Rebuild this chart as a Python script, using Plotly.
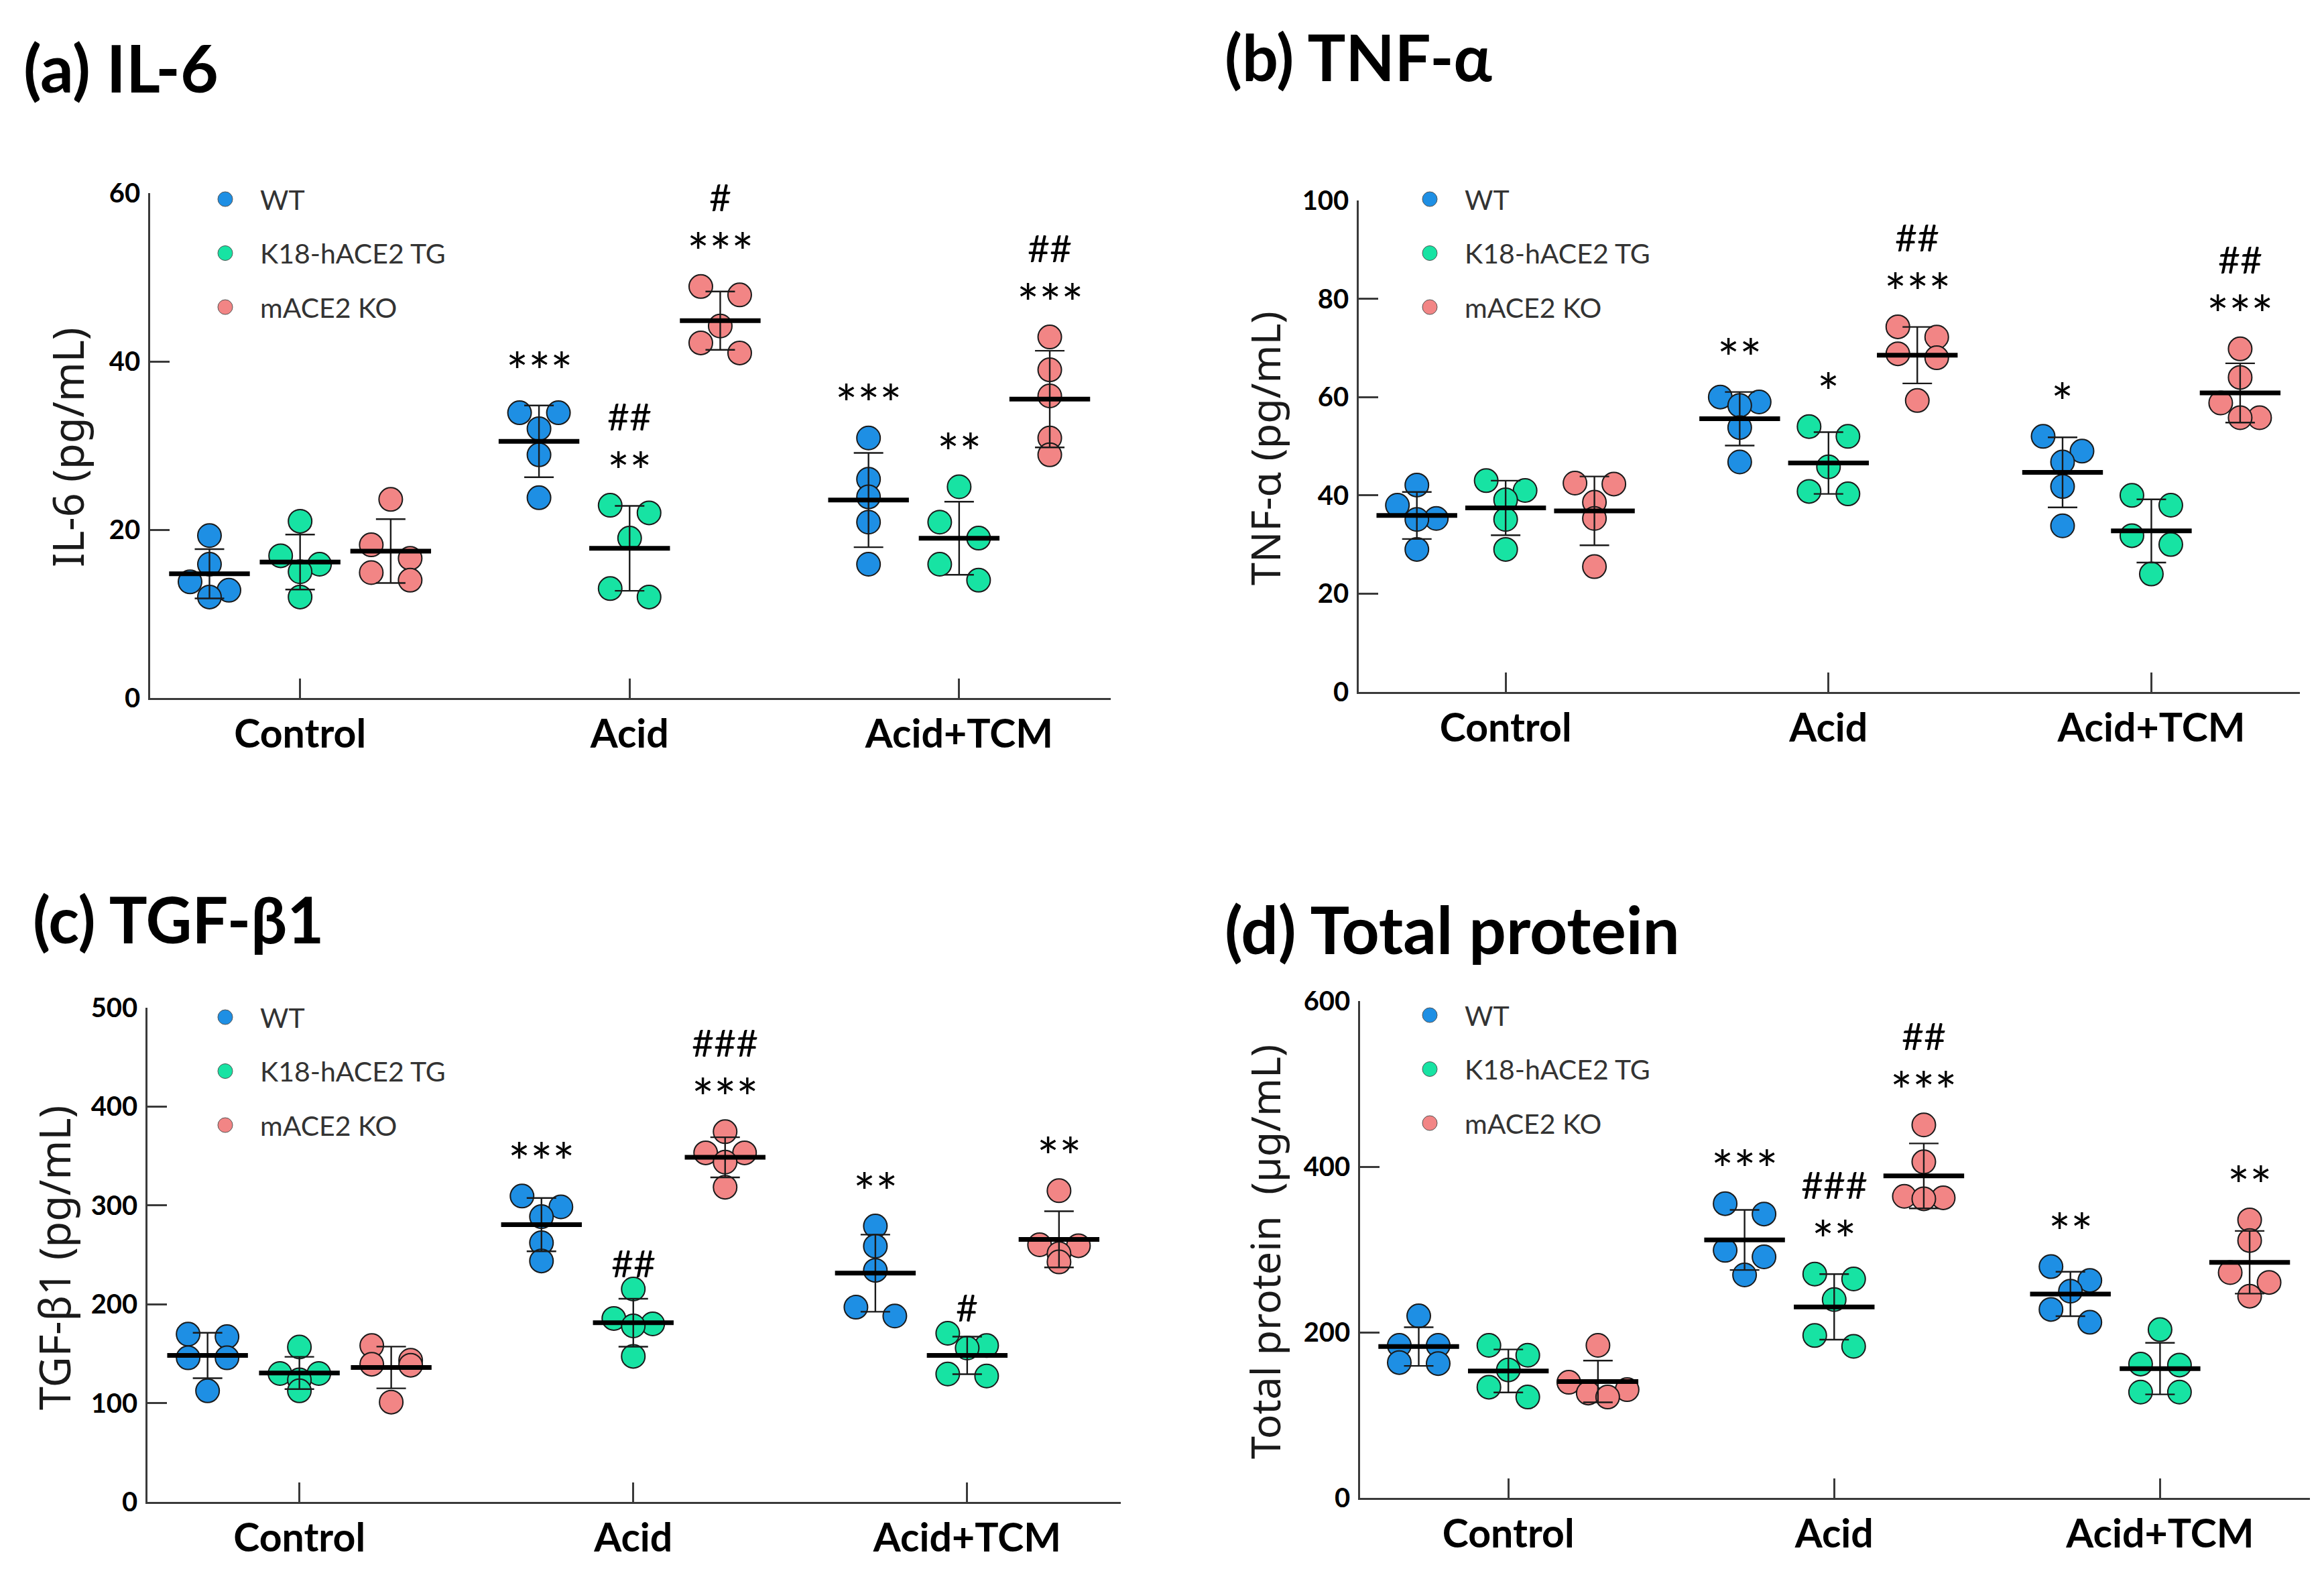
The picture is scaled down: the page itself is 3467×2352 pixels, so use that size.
import numpy as np
import plotly.graph_objects as go

W, H = 3467, 2352
PAGE_OFF = 8  # default body margin of the written html page

categories = ["Control", "Acid", "Acid+TCM"]
genotypes = ["WT", "K18-hACE2 TG", "mACE2 KO"]
colors = ["#1E8FE4", "#17E3A3", "#F28585"]

# ---------------- data: [category][mouse] ----------------
il6_wt = [[19.3, 15.9, 13.8, 12.8, 12.0], [33.9, 33.9, 32.0, 28.9, 23.8], [30.9, 26.0, 23.9, 20.9, 15.9]]
il6_tg = [[21.0, 16.9, 15.9, 15.0, 12.0], [22.9, 22.0, 19.0, 13.0, 12.0], [25.1, 20.9, 19.0, 15.9, 14.0]]
il6_ko = [[23.6, 18.2, 16.6, 14.9, 14.0], [48.9, 47.9, 44.2, 42.2, 41.0], [42.9, 39.0, 35.9, 30.9, 28.9]]
il6_stars = [["", "", ""], ["***", "**", "***"], ["***", "**", "***"]]
il6_hash = [["", "", ""], ["", "##", "#"], ["", "", "##"]]

tnf_wt = [[42.1, 38.0, 35.3, 35.1, 29.0], [60.0, 59.0, 58.3, 53.8, 46.8], [52.0, 49.0, 46.8, 41.8, 33.8]]
tnf_tg = [[43.0, 41.0, 39.1, 35.1, 29.0], [54.0, 52.0, 45.8, 40.8, 40.3], [40.0, 38.0, 31.8, 30.0, 24.0]]
tnf_ko = [[42.5, 42.3, 38.6, 35.3, 25.5], [74.3, 72.2, 68.8, 68.0, 59.3], [69.8, 64.0, 58.8, 55.8, 55.8]]
tnf_stars = [["", "", ""], ["**", "*", "***"], ["*", "", "***"]]
tnf_hash = [["", "", ""], ["", "", "##"], ["", "", "##"]]

tgf_wt = [[169.7, 167.2, 145.8, 145.8, 112.4], [309.5, 298.5, 288.6, 262.2, 243.8], [279.1, 258.7, 234.3, 197.0, 188.1]]
tgf_tg = [[156.7, 129.9, 129.9, 123.4, 112.4], [215.4, 185.6, 180.1, 178.1, 147.3], [170.6, 158.2, 155.7, 129.4, 127.4]]
tgf_ko = [[158.2, 143.3, 139.3, 138.3, 101.0], [374.6, 353.2, 353.2, 343.8, 318.4], [314.9, 260.2, 259.2, 251.2, 242.8]]
tgf_stars = [["", "", ""], ["***", "", "***"], ["**", "", "**"]]
tgf_hash = [["", "", ""], ["", "##", "###"], ["", "#", ""]]

tp_wt = [[219.8, 184.2, 184.2, 163.4, 162.2], [355.3, 342.8, 298.9, 291.1, 269.2], [279.3, 262.6, 249.6, 227.6, 212.1]]
tp_tg = [[184.2, 172.3, 154.5, 133.7, 121.8], [270.3, 264.4, 239.5, 196.1, 183.0], [203.2, 161.6, 160.4, 127.7, 127.7]]
tp_ko = [[184.2, 139.6, 130.7, 126.6, 121.8], [450.4, 405.8, 364.2, 362.4, 361.2], [335.7, 310.8, 272.1, 260.2, 243.6]]
tp_stars = [["", "", ""], ["***", "**", "***"], ["**", "", "**"]]
tp_hash = [["", "", ""], ["", "###", "##"], ["", "", ""]]

# ---------------- layout of the four panels (pixels in the picture) ----------------
XR = [-0.455, 2.46]
GOFF = [-0.275, 0.0, 0.275]

panels = [
    dict(series=[il6_wt, il6_tg, il6_ko], stars=il6_stars, hashes=il6_hash,
         title="(a) IL-6", tsize=98, tpos=(33, 100), ytitle="IL-6 (pg/mL)", ytsize=63, ytpos=(100, 667),
         ymax=60, dtick=20, box=(224, 1657, 288, 1041), leg=(336, 297)),
    dict(series=[tnf_wt, tnf_tg, tnf_ko], stars=tnf_stars, hashes=tnf_hash,
         title="(b) TNF-α", tsize=95, tpos=(1825, 84), ytitle="TNF-α (pg/mL)", ytsize=61, ytpos=(1886, 669),
         ymax=100, dtick=20, box=(2027, 3431, 299, 1032), leg=(2133, 297)),
    dict(series=[tgf_wt, tgf_tg, tgf_ko], stars=tgf_stars, hashes=tgf_hash,
         title="(c) TGF-β1", tsize=95, tpos=(47, 1370), ytitle="TGF-β1 (pg/mL)", ytsize=63, ytpos=(80, 1876),
         ymax=500, dtick=100, box=(220, 1672, 1503, 2240), leg=(336, 1517)),
    dict(series=[tp_wt, tp_tg, tp_ko], stars=tp_stars, hashes=tp_hash,
         title="(d) Total protein", tsize=98, tpos=(1825, 1385), ytitle="Total protein  (µg/mL)", ytsize=61,
         ytpos=(1886, 1867), ymax=600, dtick=200, box=(2029, 3446, 1493, 2234), leg=(2133, 1514)),
]

AX = "#3a3a3a"
MSIZE = 35
STEP_PX = 29
ROW_PX = 24
ROW_SLOTS = {1: [0], 2: [-1, 1], 3: [-1, 1, 0], 4: [-1.5, 1.5, -0.5, 0.5], 5: [-2, 2, -1, 1, 0]}


def dot_offsets(vals, yscale):
    """GraphPad-like scatter: points within one marker-row are spread symmetrically."""
    vals = np.asarray(vals, dtype=float)
    order = np.argsort(-vals, kind="stable")
    offs = np.zeros(len(vals))
    rows, cur = [], []
    for idx in order:
        if cur and (vals[cur[0]] - vals[idx]) * yscale > ROW_PX:
            rows.append(cur)
            cur = []
        cur.append(idx)
    if cur:
        rows.append(cur)
    for row in rows:
        for slot, idx in zip(ROW_SLOTS[len(row)], row):
            offs[idx] = slot * STEP_PX
    return offs


def px_x(x):
    return (x - PAGE_OFF) / W


def px_y(y):
    return 1 - (y - PAGE_OFF) / H


fig = go.Figure()
annotations = []
shapes = []
layout_axes = {}

for i, p in enumerate(panels, start=1):
    xs = "" if i == 1 else str(i)
    x0, x1, yt, yb = p["box"]
    xscale = (x1 - x0) / (XR[1] - XR[0])
    yscale = (yb - yt) / p["ymax"]

    layout_axes["xaxis" + xs] = dict(
        domain=[px_x(x0), px_x(x1)], range=XR, anchor="y" + xs, automargin=False,
        tickvals=[0, 1, 2], ticktext=categories, ticks="inside", ticklen=29, tickwidth=2.5, tickcolor=AX,
        showline=True, linewidth=2.5, linecolor=AX, showgrid=False, zeroline=False,
        tickfont=dict(family="Lato", size=59, color="black", weight="bold"), ticklabelstandoff=0,
        fixedrange=True)
    layout_axes["yaxis" + xs] = dict(
        domain=[px_y(yb), px_y(yt)], range=[0, p["ymax"]], anchor="x" + xs, automargin=False,
        tick0=0, dtick=p["dtick"], ticks="inside", ticklen=29, tickwidth=2.5, tickcolor=AX,
        showline=True, linewidth=2.5, linecolor=AX, showgrid=False, zeroline=False,
        tickfont=dict(family="Lato", size=40, color="black", weight="bold"), ticklabelstandoff=4,
        fixedrange=True)

    for g, series in enumerate(p["series"]):
        for c, vals in enumerate(series):
            vals = np.asarray(vals, dtype=float)
            offs = dot_offsets(vals, yscale) / xscale
            xc = c + GOFF[g]
            fig.add_trace(go.Scatter(
                x=xc + offs, y=vals, xaxis="x" + xs, yaxis="y" + xs, mode="markers",
                marker=dict(size=MSIZE, color=colors[g], line=dict(color="#1a1a1a", width=2)),
                cliponaxis=False, showlegend=False, hoverinfo="y"))
            m = vals.mean()
            sd = vals.std(ddof=1)
            fig.add_trace(go.Scatter(
                x=[xc], y=[m], xaxis="x" + xs, yaxis="y" + xs, mode="markers",
                marker=dict(symbol="line-ew", size=86, line=dict(color="black", width=7)),
                error_y=dict(type="data", array=[sd], visible=True, width=22, thickness=2.4, color="#1a1a1a"),
                cliponaxis=False, showlegend=False, hoverinfo="y"))
            top = max(vals.max(), m + sd)
            st = p["stars"][c][g]
            hs = p["hashes"][c][g]
            if st:
                annotations.append(dict(x=xc, y=top, xref="x" + xs, yref="y" + xs, text=st, showarrow=False,
                                        yanchor="middle", yshift=52,
                                        font=dict(family="Lato", size=78, color="black")))
            if hs:
                annotations.append(dict(x=xc, y=top, xref="x" + xs, yref="y" + xs, text=hs, showarrow=False,
                                        yanchor="middle", yshift=(134 if st else 40),
                                        font=dict(family="Lato", size=57, color="black")))

    # panel title
    tx, ty = p["tpos"]
    annotations.append(dict(x=px_x(tx), y=px_y(ty), xref="paper", yref="paper", text=p["title"],
                            showarrow=False, xanchor="left", yanchor="middle",
                            font=dict(family="Lato", size=p["tsize"], color="black", weight="bold")))
    # y axis title
    ax_, ay_ = p["ytpos"]
    annotations.append(dict(x=px_x(ax_), y=px_y(ay_), xref="paper", yref="paper", text=p["ytitle"],
                            showarrow=False, textangle=-90, xanchor="center", yanchor="middle",
                            font=dict(family="Noto Sans", size=p["ytsize"], color="#1a1a1a")))
    # legend
    lx, ly = p["leg"]
    for g, name in enumerate(genotypes):
        ry = ly + g * 80.5
        shapes.append(dict(type="circle", xref="paper", yref="paper", xsizemode="pixel", ysizemode="pixel",
                           xanchor=px_x(lx), yanchor=px_y(ry), x0=-11, x1=11, y0=-11, y1=11,
                           fillcolor=colors[g], line=dict(color="#555555", width=1)))
        annotations.append(dict(x=px_x(lx + 50), y=px_y(ry), xref="paper", yref="paper", text=name,
                                showarrow=False, xanchor="left", yanchor="middle",
                                font=dict(family="Lato", size=41, color="#333333")))

fig.update_layout(
    width=W, height=H, margin=dict(l=0, r=0, t=0, b=0, autoexpand=False),
    paper_bgcolor="white", plot_bgcolor="white", showlegend=False,
    annotations=annotations, shapes=shapes, **layout_axes)

fig.write_html("out.html")
